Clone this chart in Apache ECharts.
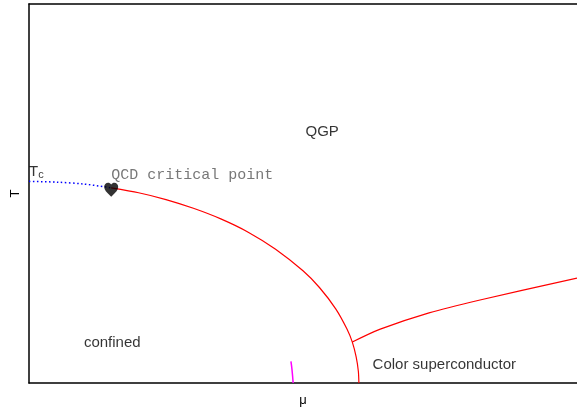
<!DOCTYPE html>
<html>
<head>
<meta charset="utf-8">
<script src="https://cdn.jsdelivr.net/npm/echarts@6/dist/echarts.min.js"></script>
<style>
  html, body { margin: 0; padding: 0; background: #fff; }
  #chart { width: 577px; height: 408px; }
</style>
</head>
<body>
<div id="chart"></div>
<script>
// QCD phase diagram, chemical potential mu (x) against temperature T (y), arbitrary units
const crossoverLine = [[0.000, 0.532], [0.050, 0.530], [0.100, 0.525], [0.150, 0.515]];
const criticalPoint = [0.150, 0.515];
const firstOrderLine = [
  [0.150, 0.515], [0.200, 0.502], [0.250, 0.484], [0.300, 0.461],
  [0.350, 0.433], [0.400, 0.398], [0.450, 0.353], [0.500, 0.296],
  [0.530, 0.252], [0.560, 0.195], [0.580, 0.143], [0.590, 0.108],
  [0.597, 0.069], [0.601, 0.031], [0.602, 0.000]
];
const superconductorLine = [[0.590, 0.108], [0.641, 0.142], [0.730, 0.185], [0.823, 0.219], [1.000, 0.277]];
const nuclearLine = [[0.482, 0.000], [0.480, 0.034], [0.478, 0.057]];

// region and point annotations: [mu, T, text, align]
const regionLabels = [
  [0.535, 0.662, 'QGP', 'center'],
  [0.152, 0.105, 'confined', 'center'],
  [0.627, 0.048, 'Color superconductor', 'left']
];
const pointLabels = [
  [0.150, 0.549, 'QCD critical point']
];
const tcLabel = [0.000, 0.557];

const heartPath = 'path://M12,21.35l-1.45-1.32C5.4,15.36,2,12.28,2,8.5C2,5.42,4.42,3,7.5,3c1.74,0,3.41,0.81,4.5,2.09C13.09,3.81,14.76,3,16.5,3C19.58,3,22,5.42,22,8.5c0,3.78-3.4,6.86-8.55,11.54L12,21.35z';

const chart = echarts.init(document.getElementById('chart'), null, { renderer: 'canvas' });

const sans = '"Liberation Sans", Arial, sans-serif';
const axisLineStyle = { color: '#000', width: 1.5 };

chart.setOption({
  animation: false,
  grid: { left: 29, right: 0, top: 4, bottom: 25, containLabel: false, outerBoundsMode: 'none' },
  xAxis: [
    {
      type: 'value', min: 0, max: 1, position: 'bottom',
      name: 'μ', nameLocation: 'middle', nameGap: 11,
      nameTextStyle: { fontFamily: sans, fontSize: 13, color: '#000' },
      axisLine: { show: true, lineStyle: axisLineStyle },
      axisTick: { show: false }, axisLabel: { show: false }, splitLine: { show: false }
    },
    {
      type: 'value', min: 0, max: 1, position: 'top',
      axisLine: { show: true, lineStyle: axisLineStyle },
      axisTick: { show: false }, axisLabel: { show: false }, splitLine: { show: false }
    }
  ],
  yAxis: {
    type: 'value', min: 0, max: 1,
    name: 'T', nameLocation: 'middle', nameGap: 7,
    nameTextStyle: { fontFamily: sans, fontSize: 13, color: '#000' },
    axisLine: { show: true, lineStyle: axisLineStyle },
    axisTick: { show: false }, axisLabel: { show: false }, splitLine: { show: false }
  },
  series: [
    {
      type: 'line', data: crossoverLine, smooth: 0.3, symbol: 'none',
      lineStyle: { color: '#0000ff', width: 1.5, type: [1.5, 2.5] }
    },
    {
      type: 'line', data: firstOrderLine, smooth: 0.25, symbol: 'none',
      lineStyle: { color: '#ff0000', width: 1.2 }
    },
    {
      type: 'line', data: superconductorLine, smooth: 0.3, symbol: 'none',
      lineStyle: { color: '#ff0000', width: 1.2 }
    },
    {
      type: 'line', data: nuclearLine, smooth: true, symbol: 'none',
      lineStyle: { color: '#ff00ff', width: 1.5 }
    },
    {
      type: 'scatter', data: [criticalPoint], symbol: heartPath,
      symbolSize: [14, 14], symbolOffset: [0, 2],
      itemStyle: { color: '#000' }, z: 5
    },
    {
      type: 'scatter', symbolSize: 0,
      data: regionLabels.map(d => ({
        value: [d[0], d[1]], name: d[2],
        label: d[3] === 'left' ? { position: 'right', distance: 0 } : { position: 'inside' }
      })),
      label: {
        show: true,
        formatter: p => p.name,
        fontFamily: sans, fontSize: 15, color: '#000'
      }
    },
    {
      type: 'scatter', symbolSize: 0,
      data: pointLabels.map(d => ({ value: [d[0], d[1]], name: d[2] })),
      label: {
        show: true, position: 'right', distance: 0,
        formatter: p => p.name,
        fontFamily: '"Liberation Mono", "Courier New", monospace', fontSize: 15, color: '#555'
      }
    },
    {
      type: 'scatter', symbolSize: 0,
      data: [{ value: tcLabel, name: 'Tc' }],
      label: {
        show: true, position: 'right', distance: 0,
        formatter: '{t|T}{s|c}',
        rich: {
          t: { fontFamily: sans, fontSize: 15, color: '#000' },
          s: { fontFamily: sans, fontSize: 11, color: '#000', verticalAlign: 'bottom', padding: [6, 0, 0, 0] }
        }
      }
    }
  ]
});
</script>
</body>
</html>
